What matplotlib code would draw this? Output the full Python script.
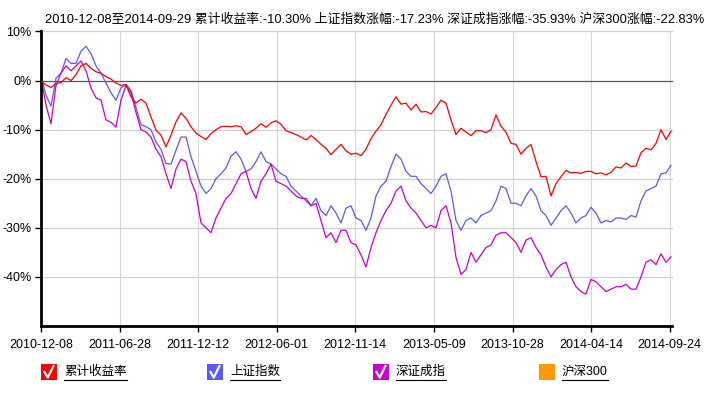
import numpy as np
import matplotlib
matplotlib.use('Agg')
import matplotlib.pyplot as plt
from matplotlib.patches import Rectangle
from matplotlib.lines import Line2D

plt.rcParams['font.family'] = ['Liberation Sans', 'Noto Sans CJK SC', 'DejaVu Sans']

title_text = ("2010-12-08至2014-09-29 累计收益率:-10.30% 上证指数涨幅:-17.23% "
              "深证成指涨幅:-35.93% 沪深300涨幅:-22.83%")
tick_labels = ['2010-12-08', '2011-06-28', '2011-12-12', '2012-06-01', '2012-11-14',
               '2013-05-09', '2013-10-28', '2014-04-14', '2014-09-24']
y_ticks = [10, 0, -10, -20, -30, -40]
series_names = ['累计收益率', '上证指数', '深证成指', '沪深300']
series_colors = ['#FF0000', '#5A5AFF', '#CC00CC', '#FF9900']

# cumulative return of the fund (%)
fund = [-0.1, -0.9, -1.4, -0.6, -0.4, 0.6, 0.0, 1.2, 3.0, 3.5,
        2.5, 1.8, 1.5, 0.8, 0.3, -0.5, -1.0, -0.8, -3.3, -4.6,
        -3.8, -4.6, -7.4, -10.1, -11.1, -13.5, -11.1, -8.4, -6.6, -7.7,
        -9.4, -10.7, -11.4, -12.0, -10.8, -10.0, -9.4, -9.3, -9.4, -9.2,
        -9.4, -11.0, -10.4, -9.7, -8.8, -9.5, -8.6, -8.2, -8.9, -10.2,
        -10.6, -11.0, -11.5, -12.1, -11.2, -12.0, -13.0, -13.8, -15.1, -14.0,
        -13.0, -14.3, -15.0, -14.8, -15.3, -14.0, -11.8, -10.3, -9.0, -6.9,
        -5.0, -3.3, -4.8, -4.6, -6.0, -4.8, -6.4, -6.3, -6.8, -5.5,
        -4.0, -4.6, -8.0, -11.0, -9.7, -10.5, -11.2, -10.2, -10.2, -10.6,
        -10.0, -7.0, -9.3, -10.5, -12.8, -13.0, -15.0, -13.8, -13.0, -16.5,
        -19.6, -19.5, -23.5, -21.0, -19.6, -18.3, -18.8, -18.7, -18.9, -18.5,
        -18.5, -19.0, -18.8, -19.2, -18.7, -17.6, -17.8, -16.8, -17.5, -17.4,
        -14.7, -13.8, -14.1, -12.8, -10.0, -12.0, -10.3]

# 上证指数 (%)
sh_index = [1.0, -3.0, -5.2, 0.5, 1.5, 4.5, 3.5, 3.5, 6.0, 7.0,
            5.5, 3.0, 1.5, -0.5, -2.5, -4.0, -1.5, -0.8, -2.0, -5.5,
            -9.0, -9.4, -10.0, -12.5, -14.0, -16.9, -17.0, -14.2, -11.5, -11.5,
            -15.5, -18.5, -21.5, -23.0, -22.0, -20.0, -19.0, -17.8, -15.4, -14.5,
            -16.0, -18.5, -18.0, -16.5, -14.5, -16.5, -17.0, -18.0, -19.0, -19.5,
            -21.5, -22.5, -23.5, -24.5, -25.5, -24.0, -26.5, -27.5, -25.5, -27.0,
            -29.0, -26.0, -25.5, -28.0, -28.5, -30.5, -28.0, -23.5, -21.5, -20.5,
            -17.5, -15.0, -16.0, -18.5, -19.5, -19.5, -21.0, -22.0, -23.0, -21.5,
            -19.5, -19.0, -22.5, -28.5, -30.5, -28.5, -28.0, -29.0, -27.5, -27.0,
            -26.5, -24.5, -21.5, -22.0, -25.0, -25.0, -25.5, -23.5, -22.0, -23.5,
            -26.5, -27.5, -29.5, -28.0, -26.5, -25.5, -27.0, -29.0, -28.0, -27.5,
            -25.8, -27.0, -29.0, -28.5, -28.8, -28.0, -28.0, -28.3, -27.5, -27.8,
            -24.5, -22.5, -22.0, -21.5, -19.0, -18.8, -17.23]

# 深证成指 (%)
sz_index = [0.5, -5.0, -8.8, -1.0, 1.5, 3.0, 2.0, 3.0, 4.0, 2.0,
            -1.5, -3.5, -4.0, -8.0, -8.5, -9.5, -4.0, -1.0, -2.5, -6.5,
            -10.0, -10.5, -11.5, -14.0, -15.5, -19.0, -22.0, -18.0, -16.0, -16.5,
            -20.5, -23.0, -29.0, -30.0, -31.0, -28.0, -26.0, -24.0, -23.0, -21.0,
            -19.0, -18.5, -22.0, -24.0, -20.5, -19.0, -17.0, -20.5, -21.0, -21.5,
            -22.5, -23.5, -24.0, -24.0, -25.5, -25.0, -28.5, -32.0, -31.0, -33.0,
            -30.5, -30.5, -33.0, -33.5, -35.5, -38.0, -34.0, -31.0, -28.5, -26.5,
            -25.0, -22.5, -21.5, -24.5, -26.0, -27.0, -28.5, -30.0, -29.5, -30.0,
            -26.5, -25.5, -29.0, -36.0, -39.5, -38.5, -35.0, -37.0, -35.5, -34.0,
            -33.5, -31.5, -31.0, -31.0, -32.0, -33.0, -35.0, -32.5, -32.0, -34.0,
            -35.5, -38.0, -40.0, -38.5, -37.5, -37.0, -40.0, -42.0, -43.0, -43.5,
            -40.5, -41.0, -42.0, -43.0, -42.5, -42.0, -42.0, -41.5, -42.5, -42.5,
            -40.0, -37.0, -36.5, -37.5, -35.3, -37.0, -35.93]

W, H = 709, 393
fig = plt.figure(figsize=(W / 100, H / 100), dpi=100)
fig.patch.set_facecolor('white')

ax_left, ax_right, ax_top, ax_bottom = 41, 672, 31.5, 326
ax = fig.add_axes([ax_left / W, 1 - ax_bottom / H, (ax_right - ax_left) / W, (ax_bottom - ax_top) / H])

x = np.arange(len(fund))
last_tick = (len(fund) - 1) * 0.998
tick_pos = np.linspace(0, last_tick, len(tick_labels))
ax.set_xlim(0, (len(fund) - 1) * 1.0016)
ax.set_ylim(-50, 10)

for p in tick_pos[1:]:
    ax.axvline(p, color='#d6d6d6', lw=0.8, zorder=0)
for v in y_ticks:
    ax.axhline(v, color='#555555' if v == 0 else '#d0d0d0', lw=0.9, zorder=0.5, clip_on=False)

ax.plot(x, sh_index, color=series_colors[1], lw=0.9, zorder=2)
ax.plot(x, sz_index, color=series_colors[2], lw=0.9, zorder=2)
ax.plot(x, fund, color=series_colors[0], lw=0.9, zorder=3)

ax.set_xticks(tick_pos)
ax.set_xticklabels(tick_labels)
ax.set_yticks(y_ticks)
ax.set_yticklabels([f'{v}%' for v in y_ticks])
ax.tick_params(axis='both', direction='out', length=4, width=1, colors='black', labelsize=9)
ax.tick_params(axis='x', pad=5)
ax.tick_params(axis='y', pad=3)
for s in ['top', 'right']:
    ax.spines[s].set_visible(False)
for s in ['left', 'bottom']:
    ax.spines[s].set_linewidth(2.0)
    ax.spines[s].set_color('black')

fig.text(45 / W, 1 - 20 / H, title_text, fontsize=9.25, ha='left', va='center', color='black')

# legend
sq_x = [41, 207, 373, 539]
tx_x = [64, 230, 396, 562]
sq_top, sq_size = 364, 16
checked = [True, True, True, False]
texts = []
for i, name in enumerate(series_names):
    fig.patches.append(Rectangle((sq_x[i] / W, 1 - (sq_top + sq_size) / H), sq_size / W, sq_size / H,
                                 transform=fig.transFigure, facecolor=series_colors[i],
                                 edgecolor='none'))
    if checked[i]:
        cx = np.array([0.22, 0.42, 0.78]) * sq_size + sq_x[i]
        cy = sq_top + np.array([0.5, 0.85, 0.12]) * sq_size
        fig.lines.append(Line2D(cx / W, 1 - cy / H, transform=fig.transFigure,
                                color='white', lw=1.6))
    t = fig.text(tx_x[i] / W, 1 - 372 / H, name, fontsize=9, ha='left', va='center', color='black')
    texts.append(t)

fig.canvas.draw()
r = fig.canvas.get_renderer()
for t in texts:
    bb = t.get_window_extent(renderer=r)
    y_ul = 1 - 379.5 / H
    fig.lines.append(Line2D([bb.x0 / W, bb.x1 / W], [y_ul, y_ul], transform=fig.transFigure,
                            color='black', lw=0.8))

fig.savefig('out.png', dpi=100, facecolor='white')
